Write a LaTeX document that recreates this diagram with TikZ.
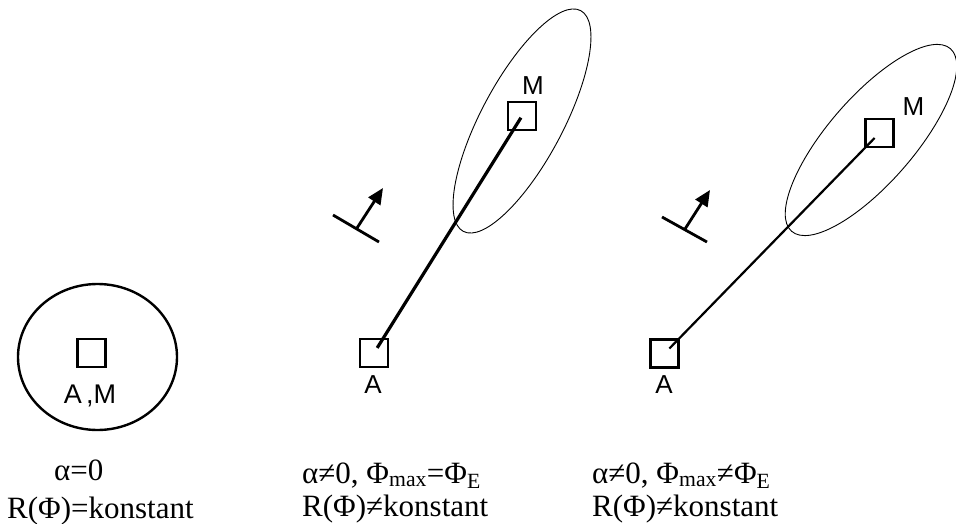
\documentclass[tikz,border=0pt]{standalone}
\usepackage{fontspec}
\setmainfont{Liberation Serif}
\newfontfamily\tagfont{Liberation Sans}
\usetikzlibrary{arrows.meta}

\begin{document}
\begin{tikzpicture}[
  x=1pt,y=-1pt,
  site/.style={draw,line width=2.4pt,minimum size=28pt,inner sep=0pt},
  tag/.style={inner sep=0pt,font=\tagfont\fontsize{26}{30}\selectfont},
  caption/.style={anchor=base west,inner sep=0pt,font=\fontsize{31}{36}\selectfont},
  lobe/.style={line width=0.9pt},
  beam/.style={line width=3.2pt},
  probe/.style={line width=2.8pt},
  ray/.style={-{Triangle[length=16pt,width=14pt]},line width=2.8pt}
]
  \useasboundingbox (0,0) rectangle (956,524);

  \node[site] (AM1) at (91.5,353) {};
  \node[tag,font=\tagfont\fontsize{27}{31}\selectfont] (AM1-tag) at (90,396) {A\thinspace,M};
  \draw[line width=2.4pt] (97.5,357) ellipse [x radius=79.5, y radius=73];
  \node[caption] (alpha1) at (54,480) {α=0};
  \node[caption] (R1) at (7,518) {R(Φ)=konstant};

  \node[site] (A2) at (374,353) {};
  \node[site] (M2) at (522,116) {};
  \node[tag] (A2-tag) at (373,385) {A};
  \node[tag] (M2-tag) at (533,86) {M};
  \coordinate (lobe2) at (522,121);
  \draw[lobe,rotate around={62:(lobe2)}] (lobe2) ellipse [x radius=125, y radius=41];
  \draw[beam,shorten <=6pt,shorten >=2pt] (A2.center) -- (M2.center);
  \coordinate (foot2) at (357,228);
  \coordinate (tip2) at (383,188);
  \draw[probe] (333,215) -- (379,242);
  \draw[ray] (foot2) -- (tip2);
  \node[caption] (alpha2) at (302,483) {α≠0, Φ\textsubscript{max}=Φ\textsubscript{E}};
  \node[caption] (R2) at (302,516) {R(Φ)≠konstant};

  \node[site] (A3) at (664.5,353.5) {};
  \node[site] (M3) at (879.5,133) {};
  \node[tag] (A3-tag) at (664,385) {A};
  \node[tag] (M3-tag) at (913.5,106.5) {M};
  \coordinate (lobe3) at (871,140);
  \draw[lobe,rotate around={49:(lobe3)}] (lobe3) ellipse [x radius=121, y radius=43];
  \draw[line width=2.2pt,shorten <=7pt,shorten >=7pt] (A3.center) -- (M3.center);
  \coordinate (foot3) at (685,229);
  \coordinate (tip3) at (710,190);
  \draw[probe] (662,217) -- (707,242);
  \draw[ray] (foot3) -- (tip3);
  \node[caption] (alpha3) at (592,483) {α≠0, Φ\textsubscript{max}≠Φ\textsubscript{E}};
  \node[caption] (R3) at (592,516) {R(Φ)≠konstant};
\end{tikzpicture}
\end{document}
